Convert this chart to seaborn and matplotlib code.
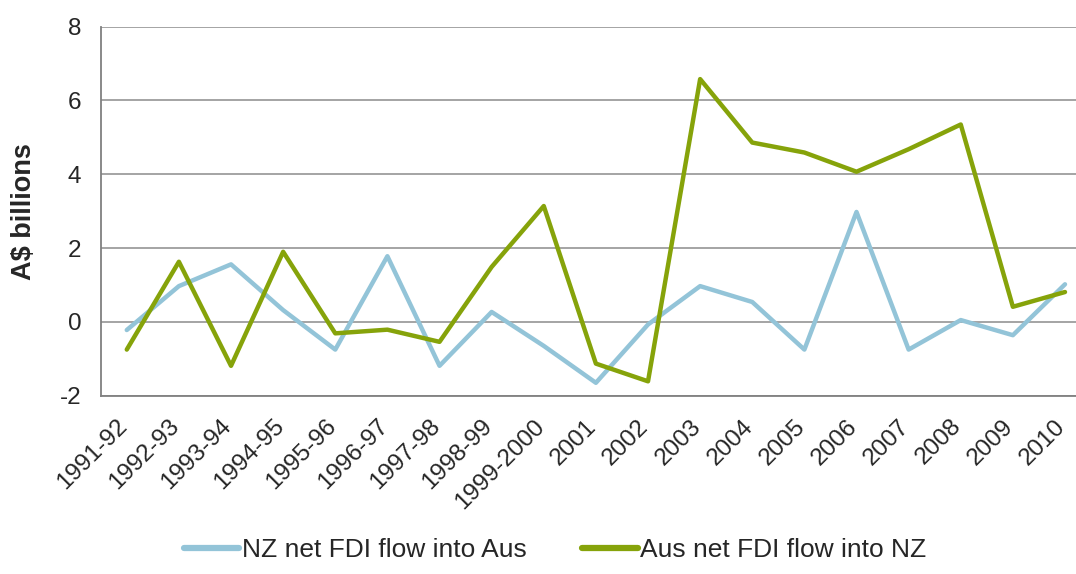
import pandas as pd
import matplotlib.pyplot as plt
import seaborn as sns
from matplotlib.ticker import FixedLocator

# data (A$ billions)
years = ["1991-92", "1992-93", "1993-94", "1994-95", "1995-96", "1996-97", "1997-98",
         "1998-99", "1999-2000", "2001", "2002", "2003", "2004", "2005", "2006",
         "2007", "2008", "2009", "2010"]
nz_into_aus = [-0.22, 0.97, 1.56, 0.32, -0.75, 1.78, -1.19, 0.27, -0.65, -1.65,
               -0.07, 0.97, 0.54, -0.75, 2.98, -0.75, 0.05, -0.36, 1.02]
aus_into_nz = [-0.75, 1.63, -1.19, 1.90, -0.31, -0.21, -0.54, 1.49, 3.14, -1.13,
               -1.61, 6.58, 4.86, 4.59, 4.07, 4.68, 5.35, 0.41, 0.81]
series_names = ["NZ net FDI flow into Aus", "Aus net FDI flow into NZ"]
colors = ["#93C4D8", "#86A30A"]

df = pd.DataFrame({
    "year": years * 2,
    "value": nz_into_aus + aus_into_nz,
    "series": [series_names[0]] * len(years) + [series_names[1]] * len(years),
})
df["pos"] = list(range(len(years))) * 2

sns.set_style("white")
plt.rcParams['font.family'] = ['Liberation Sans', 'DejaVu Sans']
plt.rcParams['axes.unicode_minus'] = False

fig = plt.figure(figsize=(10.76, 5.74), dpi=100)
ax = fig.add_axes([0.0936, 0.3106, 0.9204, 0.6429])

sns.lineplot(data=df, x="pos", y="value", hue="series", palette=colors,
             linewidth=3.2, ax=ax, legend=False, sort=False)

ax.set_xlim(-0.5, len(years) - 0.5)
ax.set_ylim(-2, 8)
ax.set_yticks(range(-2, 9, 2))
ax.yaxis.grid(True, color="#8c8c8c", linewidth=1.1)
ax.set_axisbelow(True)

# category labels (invisible major ticks, nudged left so the text ends at the centre),
# visible tick marks at the category boundaries
ax.set_xticks([i - 0.2 for i in range(len(years))])
ax.set_xticklabels(years, rotation=45, ha="right", rotation_mode="anchor", fontsize=17.5)
ax.xaxis.set_minor_locator(FixedLocator([i - 0.5 for i in range(len(years) + 1)]))
ax.tick_params(axis="x", which="major", length=0, pad=14)
ax.tick_params(axis="x", which="minor", length=6, width=1.1, color="#808080", direction="out")
ax.tick_params(axis="y", length=6, width=1.1, color="#808080", direction="out", labelsize=17.5, pad=8)

for side in ["top", "right"]:
    ax.spines[side].set_visible(False)
for side in ["left", "bottom"]:
    ax.spines[side].set_color("#808080")
    ax.spines[side].set_linewidth(1.3)

ax.set_xlabel("")
ax.set_ylabel("A$ billions", fontsize=19.5, fontweight="bold")
ax.yaxis.set_label_coords(-0.064, 0.5)

handles = [plt.Line2D([], [], color=c, linewidth=4.5) for c in colors]
fig.legend(handles, series_names, loc="center", bbox_to_anchor=(0.516, 0.042), ncol=2,
           frameon=False, fontsize=19, handlelength=2.1, handletextpad=0.1,
           columnspacing=2.1)

fig.savefig("out.png", dpi=100)
